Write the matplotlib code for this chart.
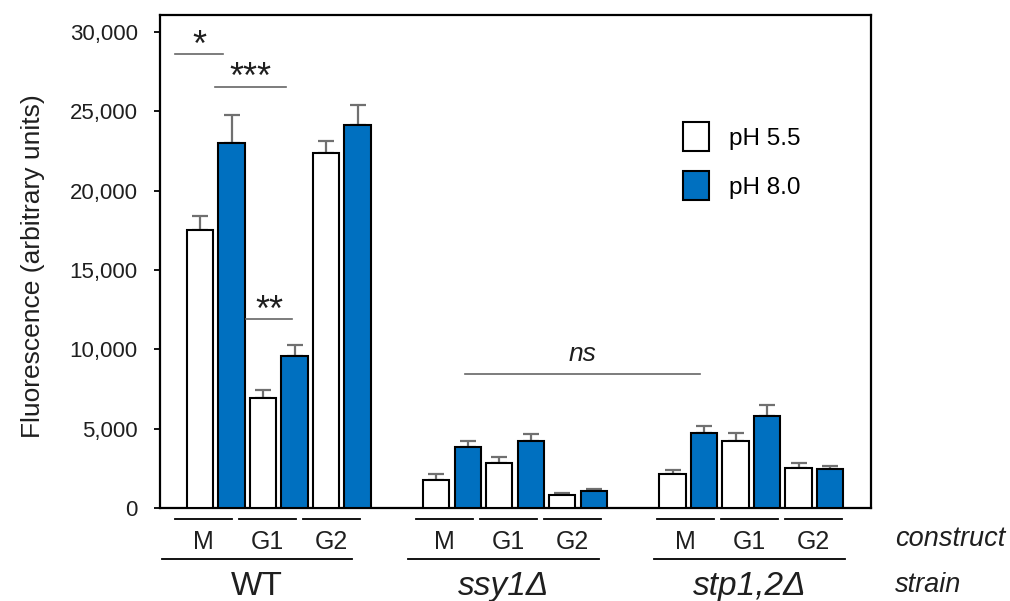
import numpy as np
import matplotlib
matplotlib.use("Agg")
from matplotlib import pyplot as plt
from matplotlib.patches import Patch

plt.rcParams['font.family'] = ['Liberation Sans', 'DejaVu Sans']

strains = ['WT', 'ssy1Δ', 'stp1,2Δ']
strain_italic = [False, True, True]
constructs = ['M', 'G1', 'G2']
series = ['pH 5.5', 'pH 8.0']

# means, ordered strain by strain, construct by construct
ph55 = [17500, 6950, 22350, 1770, 2860, 800, 2160, 4220, 2500]
ph80 = [23000, 9580, 24130, 3870, 4220, 1070, 4750, 5780, 2440]
err55 = [900, 490, 800, 400, 340, 125, 215, 530, 340]
err80 = [1800, 690, 1260, 340, 420, 130, 420, 690, 190]

yticks = [0, 5000, 10000, 15000, 20000, 25000, 30000]

# significance marks: (x0, x1, line y, text, italic)
sig = [(-0.79, 0.73, 28600, '*', False),
       (0.48, 2.73, 26550, '***', False),
       (1.46, 2.92, 11900, '**', False),
       (8.41, 15.87, 8450, 'ns', True)]

BLUE = '#0070C0'
EGRAY = '#707070'
TXT = '#1f1f1f'

group_start = np.array([0, 7.5, 15])
xw = np.concatenate([g + 2 * np.arange(3) for g in group_start])
xb = xw + 1

fig = plt.figure(figsize=(10.1, 6.01), dpi=100)
ax = fig.add_axes([160 / 1010, 1 - 508 / 601, 711 / 1010, 493 / 601])

w = 0.83
ax.bar(xw, ph55, w, color='white', edgecolor='black', linewidth=1.5, zorder=3)
ax.bar(xb, ph80, w, color=BLUE, edgecolor='black', linewidth=1.5, zorder=3)
ax.errorbar(xw, ph55, yerr=[np.zeros(9), err55], fmt='none', ecolor=EGRAY,
            elinewidth=1.6, capsize=6, capthick=1.6, zorder=2)
ax.errorbar(xb, ph80, yerr=[np.zeros(9), err80], fmt='none', ecolor=EGRAY,
            elinewidth=1.6, capsize=6, capthick=1.6, zorder=2)

ax.set_xlim(-1.27, 21.3)
ax.set_ylim(0, 30000 * 493 / 476)
ax.set_yticks(yticks)
ax.set_yticklabels([f'{v:,}' for v in yticks], fontsize=16, color=TXT)
ax.set_xticks([])
ax.tick_params(axis='y', direction='out', length=4, width=1.3, pad=12)
for s in ax.spines.values():
    s.set_linewidth(1.6)
ax.set_ylabel('Fluorescence (arbitrary units)', fontsize=19, color=TXT)
ax.yaxis.set_label_coords(-0.162, 0.49)

# significance annotations
for x0, x1, y, t, it in sig:
    ax.plot([x0, x1], [y, y], color='#666666', lw=1.2, zorder=4)
    if it:
        ax.text((x0 + x1) / 2, y + 500, t, ha='center', va='bottom',
                fontsize=19, style='italic', color=TXT)
    else:
        ax.text((x0 + x1) / 2, y - 100, t, ha='center',
                va='baseline', fontsize=26, color=TXT)

# legend
handles = [Patch(facecolor='white', edgecolor='black', linewidth=1.5),
           Patch(facecolor=BLUE, edgecolor='black', linewidth=1.5)]
ax.legend(handles, series, loc='upper left', bbox_to_anchor=(0.735, 0.782),
          frameon=False, fontsize=17.5, handlelength=1.07, handleheight=1.4,
          handletextpad=0.86, labelspacing=0.86, borderpad=0, borderaxespad=0)

# category axis below the plot
tr = ax.get_xaxis_transform()
pair_c = (xw + xb) / 2
for i, pc in enumerate(pair_c):
    c = 1.02 * pc - 0.413
    ax.plot([c - 0.905, c + 0.905], [-0.0223, -0.0223], transform=tr,
            color='black', lw=1.3, clip_on=False)
    ax.text(c, -0.069, constructs[i % 3], transform=tr, ha='center',
            va='center', fontsize=18, color=TXT)
for g, gs in enumerate(group_start):
    c = 1.0423 * (gs + 2.5) - 0.798
    ax.plot([c - 3.03, c + 3.03], [-0.1034, -0.1034], transform=tr,
            color='black', lw=1.3, clip_on=False)
    ax.text(c, -0.160, strains[g], transform=tr, ha='center', va='center',
            fontsize=24, color=TXT,
            style='italic' if strain_italic[g] else 'normal')
ax.text(22.06, -0.063, 'construct', transform=tr, ha='left', va='center',
        fontsize=19.5, style='italic', color=TXT)
ax.text(22.06, -0.157, 'strain', transform=tr, ha='left', va='center',
        fontsize=19.5, style='italic', color=TXT)

fig.savefig('out.png', dpi=100)
